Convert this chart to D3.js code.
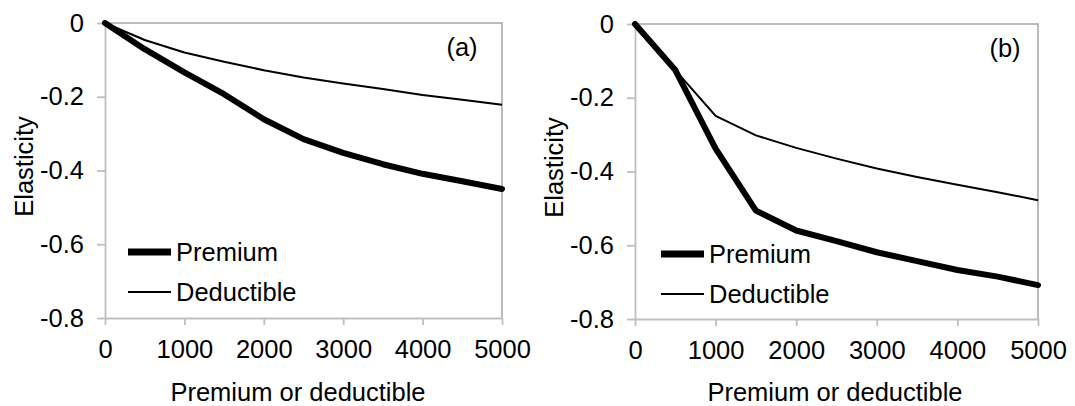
<!DOCTYPE html>
<html>
<head>
<meta charset="utf-8">
<script src="https://cdn.jsdelivr.net/npm/d3@7/dist/d3.min.js"></script>
<style>
  html, body { margin: 0; padding: 0; background: #fff; }
  svg { display: block; font-family: "Liberation Sans", Arial, sans-serif; }
</style>
</head>
<body>
<svg id="chart" width="1075" height="406"></svg>
<script>
// Elasticity versus premium or deductible level, two scenarios (a) and (b)
const xValues = [0, 500, 1000, 1500, 2000, 2500, 3000, 3500, 4000, 4500, 5000];

const premiumA    = [0, -0.071, -0.134, -0.193, -0.261, -0.315, -0.352, -0.383, -0.409, -0.429, -0.450];
const deductibleA = [0, -0.046, -0.080, -0.105, -0.128, -0.148, -0.164, -0.179, -0.195, -0.208, -0.222];

const premiumB    = [0, -0.125, -0.338, -0.506, -0.560, -0.589, -0.619, -0.643, -0.667, -0.685, -0.708];
const deductibleB = [0, -0.125, -0.249, -0.302, -0.336, -0.365, -0.392, -0.415, -0.436, -0.456, -0.478];

const xTicks = [0, 1000, 2000, 3000, 4000, 5000];
const yTicks = [0, -0.2, -0.4, -0.6, -0.8];
const seriesNames = ["Premium", "Deductible"];
const panelLabels = ["(a)", "(b)"];
const xTitle = "Premium or deductible";
const yTitle = "Elasticity";

const panels = [
  { label: panelLabels[0], premium: premiumA, deductible: deductibleA,
    left: 105, right: 502, top: 23, bottom: 318, yTitleX: 33, xTitleX: 298, legendX: 128, legendY: 252, labelX: 462, labelY: 47 },
  { label: panelLabels[1], premium: premiumB, deductible: deductibleB,
    left: 635, right: 1038, top: 24, bottom: 319, yTitleX: 563, xTitleX: 835, legendX: 661, legendY: 254, labelX: 1005, labelY: 48 }
];

const svg = d3.select("#chart");
const fontSize = 25.5;
const axisColor = "#bfbfbf";
const borderColor = "#a6a6a6";

panels.forEach(p => {
  const x = d3.scaleLinear().domain([0, 5000]).range([p.left, p.right]);
  const y = d3.scaleLinear().domain([-0.8, 0]).range([p.bottom, p.top]);
  const g = svg.append("g");

  // plot-area border on top and right
  g.append("path")
    .attr("d", `M${p.left},${p.top}H${p.right}V${p.bottom}`)
    .attr("fill", "none").attr("stroke", borderColor).attr("stroke-width", 1.5);

  const yAxis = g.append("g")
    .attr("transform", `translate(${p.left},0)`)
    .call(d3.axisLeft(y).tickValues(yTicks).tickSize(8).tickSizeOuter(0).tickPadding(13)
      .tickFormat(d => d === 0 ? "0" : d3.format(".1f")(d).replace("−", "-")));
  const xAxis = g.append("g")
    .attr("transform", `translate(0,${p.bottom})`)
    .call(d3.axisBottom(x).tickValues(xTicks).tickSize(7).tickSizeOuter(0).tickPadding(15)
      .tickFormat(d3.format("d")));

  [yAxis, xAxis].forEach(a => {
    a.selectAll("path.domain, line").attr("stroke", axisColor).attr("stroke-width", 1.8);
    a.selectAll("text").attr("fill", "#000").style("font-size", fontSize + "px")
      .style("font-family", "'Liberation Sans', Arial, sans-serif");
  });

  const line = d3.line().x((d, i) => x(xValues[i])).y(d => y(d));

  g.append("path").datum(p.deductible)
    .attr("d", line).attr("fill", "none").attr("stroke", "#000")
    .attr("stroke-width", 2).attr("stroke-linejoin", "round");
  g.append("path").datum(p.premium)
    .attr("d", line).attr("fill", "none").attr("stroke", "#000")
    .attr("stroke-width", 6).attr("stroke-linejoin", "round").attr("stroke-linecap", "round");

  // axis titles
  g.append("text")
    .attr("transform", `translate(${p.yTitleX},${(p.top + p.bottom) / 2 - 4}) rotate(-90)`)
    .attr("text-anchor", "middle").style("font-size", fontSize + "px").text(yTitle);
  g.append("text")
    .attr("x", p.xTitleX).attr("y", 401)
    .attr("text-anchor", "middle").style("font-size", fontSize + "px").text(xTitle);

  // panel label
  g.append("text")
    .attr("x", p.labelX).attr("y", p.labelY).attr("dy", "0.35em")
    .attr("text-anchor", "middle").style("font-size", fontSize + "px").text(p.label);

  // legend
  const widths = [7, 2];
  seriesNames.forEach((name, i) => {
    const ly = p.legendY + i * 40;
    g.append("line")
      .attr("x1", p.legendX).attr("x2", p.legendX + 43)
      .attr("y1", ly).attr("y2", ly)
      .attr("stroke", "#000").attr("stroke-width", widths[i]);
    g.append("text")
      .attr("x", p.legendX + 48).attr("y", ly).attr("dy", "0.35em")
      .style("font-size", fontSize + "px").text(name);
  });
});
</script>
</body>
</html>
